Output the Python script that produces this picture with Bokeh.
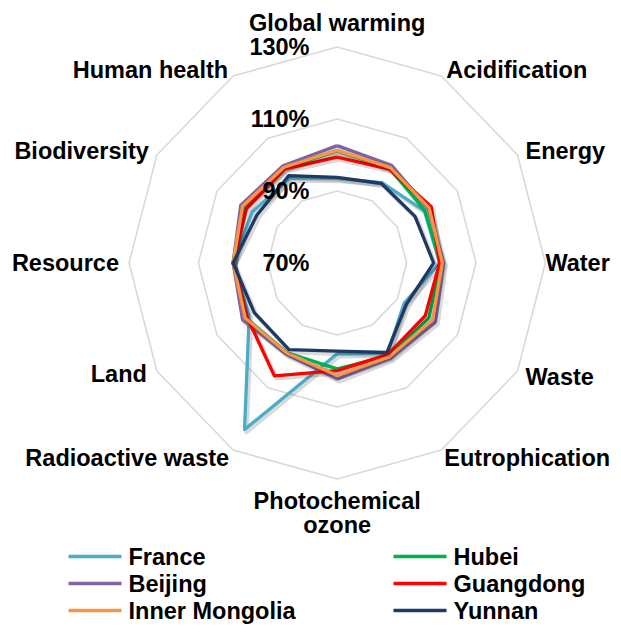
import numpy as np
from bokeh.plotting import figure
from bokeh.models import Range1d
from bokeh.embed import file_html
from bokeh.resources import INLINE
from bokeh.core.properties import value

# ---------------- data ----------------
categories = ["Global warming", "Acidification", "Energy", "Water", "Waste",
              "Eutrophication", "Photochemical ozone", "Radioactive waste",
              "Land", "Resource", "Biodiversity", "Human health"]

france         = [93.5, 95.8, 99.0, 99.5, 92.3, 99.0, 95.2, 123.4, 99.3, 100.0, 98.3, 97.3]
hubei          = [101.1, 100.3, 99.2, 99.8, 100.5, 99.8, 99.4, 98.8, 100.4, 100.0, 101.2, 100.5]
beijing        = [102.6, 101.3, 100.3, 100.7, 102.7, 100.6, 102.2, 99.3, 101.5, 100.0, 102.1, 101.2]
guangdong      = [99.4, 100.1, 101.3, 99.5, 99.3, 99.3, 99.9, 106.2, 100.0, 100.0, 100.2, 100.2]
inner_mongolia = [101.3, 100.6, 100.6, 100.3, 101.7, 100.1, 101.25, 98.9, 100.6, 100.0, 101.5, 100.7]
yunnan         = [93.8, 95.5, 95.9, 97.8, 93.0, 98.7, 94.5, 97.8, 97.6, 100.0, 96.7, 98.0]

series_names = ["France", "Hubei", "Beijing", "Guangdong", "Inner Mongolia", "Yunnan"]
series_values = [france, hubei, beijing, guangdong, inner_mongolia, yunnan]
series_colors = ["#4bacc6", "#00b050", "#8064a2", "#ff0000", "#f79646", "#1f3864"]

axis_min = 70
ring_values = [90, 110, 130]
tick_values = [70, 90, 110, 130]
tick_labels = ["70%", "90%", "110%", "130%"]

# ---------------- layout ----------------
W, H = 613, 624
CX_PX, CY_PX = 336.7, 262.5           # centre in figure pixels (from top-left)
KX, KY = 3.47, 3.6                    # pixels per percentage point

FONT = "Liberation Sans"
FS = "23.5px"

p = figure(width=W, height=H, output_backend="svg", toolbar_location=None,
           x_range=Range1d(-CX_PX / KX, (W - CX_PX) / KX),
           y_range=Range1d(-(H - CY_PX) / KY, CY_PX / KY),
           min_border=0)
p.axis.visible = False
p.grid.visible = False
p.outline_line_color = None
p.background_fill_color = "white"


def px2d(px, py):
    """figure pixel -> data coordinates"""
    return (px - CX_PX) / KX, (CY_PX - py) / KY


n = len(categories)
theta = np.pi / 2 - np.arange(n) * 2 * np.pi / n

# grid rings
for rv in ring_values:
    r = rv - axis_min
    xs = list(r * np.cos(theta)) + [r * np.cos(theta[0])]
    ys = list(r * np.sin(theta)) + [r * np.sin(theta[0])]
    p.line(xs, ys, line_color="#d9d9d9", line_width=1.6)

# series with shadow
sdx, sdy = 2.0 / KX, -2.5 / KY
for vals, col in zip(series_values, series_colors):
    r = np.array(vals) - axis_min
    xs = list(r * np.cos(theta)) + [r[0] * np.cos(theta[0])]
    ys = list(r * np.sin(theta)) + [r[0] * np.sin(theta[0])]
    p.line([x + sdx for x in xs], [y + sdy for y in ys], line_color="black",
           line_alpha=0.15, line_width=4.5, line_join="round")
    p.line(xs, ys, line_color=col, line_width=3.3, line_join="round")

# tick labels (right aligned left of vertical axis)
tick_x = px2d(309, 0)[0]
p.text(x=[tick_x] * len(tick_values), y=[t - axis_min for t in tick_values],
       text=tick_labels, text_font=value(FONT), text_font_style="bold",
       text_font_size=FS, text_align="right", text_baseline="middle",
       text_color="black")

# category labels
offsets = [(0, -24), (5, -6), (8, -4), (0, 0), (8, 6), (3, 8),
           (0, 22), (-4, 8), (-10, 3), (-10, 0), (-8, -4), (-5, -6)]
aligns = ["center", "left", "left", "left", "left", "left",
          "center", "right", "right", "right", "right", "right"]
rmax = 130 - axis_min
for k, cat in enumerate(categories):
    vx = rmax * np.cos(theta[k])
    vy = rmax * np.sin(theta[k])
    ox, oy = offsets[k]
    bx = vx + ox / KX
    by = vy - oy / KY
    if cat == "Photochemical ozone":
        lines = ["Photochemical", "ozone"]
    else:
        lines = [cat]
    for j, ln in enumerate(lines):
        p.text(x=[bx], y=[by - j * 24 / KY], text=[ln], text_font=value(FONT),
               text_font_style="bold", text_font_size=FS, text_align=aligns[k],
               text_baseline="middle", text_color="black")

# legend (manual, two columns, row-major)
col_x = [68, 393]
row_y = [556, 583, 610]
for i, (name, col) in enumerate(zip(series_names, series_colors)):
    c, rw = i % 2, i // 2
    x0, y0 = px2d(col_x[c], row_y[rw])
    x1, _ = px2d(col_x[c] + 53, row_y[rw])
    xt, _ = px2d(col_x[c] + 60, row_y[rw])
    p.line([x0, x1], [y0, y0], line_color=col, line_width=3.3)
    p.text(x=[xt], y=[y0], text=[name], text_font=value(FONT),
           text_font_style="bold", text_font_size=FS, text_align="left",
           text_baseline="middle", text_color="black")

open("out.html", "w").write(file_html(p, INLINE))
